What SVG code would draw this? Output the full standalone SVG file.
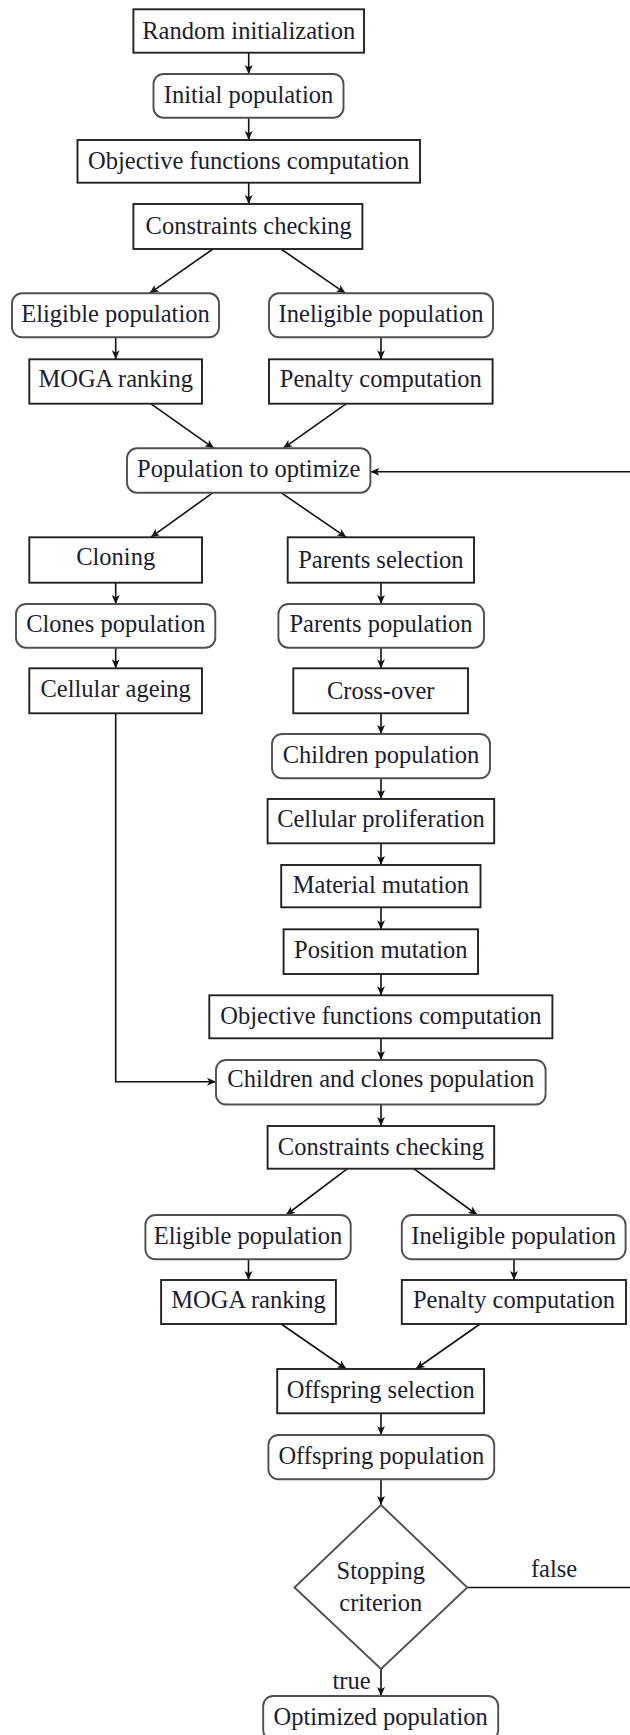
<svg xmlns="http://www.w3.org/2000/svg" width="630" height="1735" viewBox="0 0 630 1735">
  <style>
    .box { fill: #ffffff; stroke: #222222; stroke-width: 1.9; }
    .rbox { fill: #ffffff; stroke: #505050; stroke-width: 1.9; }
    .lbl { font-family: "Liberation Serif", "Times New Roman", serif; font-size: 24.5px; fill: #1c1c30; text-anchor: middle; }
    .edge { fill: none; stroke: #111111; stroke-width: 1.6; }
    .arr { marker-end: url(#head); }
  </style>
  <defs>
    <marker id="head" viewBox="0 0 10 10" refX="10" refY="5" markerWidth="9" markerHeight="9" markerUnits="userSpaceOnUse" orient="auto">
      <path d="M0,0.6 L10,5 L0,9.4 L2.6,5 Z" fill="#111111"/>
    </marker>
  </defs>

  <!-- connectors -->
  <g id="connectors">
    <line class="edge arr" x1="248.7" y1="52.7" x2="248.7" y2="74"/>
    <line class="edge arr" x1="248.7" y1="117.7" x2="248.7" y2="140"/>
    <line class="edge arr" x1="248.7" y1="182.7" x2="248.7" y2="204"/>
    <line class="edge arr" x1="213" y1="249" x2="149.5" y2="293.3"/>
    <line class="edge arr" x1="281" y1="249" x2="345.5" y2="293.3"/>
    <line class="edge arr" x1="115.7" y1="337.3" x2="115.7" y2="359.3"/>
    <line class="edge arr" x1="381" y1="337.3" x2="381" y2="359.3"/>
    <line class="edge arr" x1="150.7" y1="403.7" x2="214" y2="448.3"/>
    <line class="edge arr" x1="346.3" y1="403.7" x2="283.2" y2="448.3"/>
    <line class="edge arr" x1="631" y1="471.7" x2="370.4" y2="471.7"/>
    <line class="edge arr" x1="213" y1="492.7" x2="150.7" y2="537.3"/>
    <line class="edge arr" x1="281" y1="492.7" x2="346.3" y2="537.3"/>
    <line class="edge arr" x1="115.7" y1="582.7" x2="115.7" y2="604"/>
    <line class="edge arr" x1="381" y1="582.7" x2="381" y2="604"/>
    <line class="edge arr" x1="115.7" y1="647.7" x2="115.7" y2="668.3"/>
    <line class="edge arr" x1="381" y1="647.7" x2="381" y2="668.3"/>
    <polyline class="edge arr" points="115.7,713.3 115.7,1081.7 216,1081.7"/>
    <line class="edge arr" x1="381" y1="713.3" x2="381" y2="734"/>
    <line class="edge arr" x1="381" y1="778.3" x2="381" y2="799"/>
    <line class="edge arr" x1="381" y1="843.3" x2="381" y2="865"/>
    <line class="edge arr" x1="381" y1="907.3" x2="381" y2="929.3"/>
    <line class="edge arr" x1="381" y1="974" x2="381" y2="995.3"/>
    <line class="edge arr" x1="381" y1="1038.3" x2="381" y2="1060"/>
    <line class="edge arr" x1="381" y1="1104" x2="381" y2="1126"/>
    <line class="edge arr" x1="347.5" y1="1168.7" x2="286" y2="1215"/>
    <line class="edge arr" x1="413.8" y1="1168.7" x2="477.3" y2="1215"/>
    <line class="edge arr" x1="248.5" y1="1259.3" x2="248.5" y2="1280"/>
    <line class="edge arr" x1="514" y1="1259.3" x2="514" y2="1280"/>
    <line class="edge arr" x1="281.2" y1="1324" x2="346.3" y2="1369"/>
    <line class="edge arr" x1="480" y1="1324" x2="415.8" y2="1369"/>
    <line class="edge arr" x1="381" y1="1413.3" x2="381" y2="1435"/>
    <line class="edge arr" x1="381" y1="1479.3" x2="381" y2="1505"/>
    <line class="edge" x1="467.3" y1="1587.5" x2="631" y2="1587.5"/>
    <line class="edge arr" x1="381" y1="1669" x2="381" y2="1696"/>
    <text class="lbl" x="554" y="1577">false</text>
    <text class="lbl" x="351.5" y="1689">true</text>
  </g>

  <g id="random-init">
    <rect class="box" x="133.4" y="9.3" width="230.6" height="43.4"/>
    <text class="lbl" x="248.7" y="39.3">Random initialization</text>
  </g>
  <g id="initial-pop">
    <rect class="rbox" x="153.5" y="74" width="190" height="43.7" rx="10"/>
    <text class="lbl" x="248.5" y="103.3">Initial population</text>
  </g>
  <g id="objectives-1">
    <rect class="box" x="77.5" y="140" width="342.5" height="42.7"/>
    <text class="lbl" x="248.7" y="168.8">Objective functions computation</text>
  </g>
  <g id="constraints-1">
    <rect class="box" x="133.4" y="204" width="229" height="45"/>
    <text class="lbl" x="248.7" y="233.5">Constraints checking</text>
  </g>
  <g id="eligible-1">
    <rect class="rbox" x="12" y="293.3" width="207" height="44" rx="10"/>
    <text class="lbl" x="115.5" y="322.3">Eligible population</text>
  </g>
  <g id="ineligible-1">
    <rect class="rbox" x="269" y="293.3" width="224" height="44" rx="10"/>
    <text class="lbl" x="381" y="322.3">Ineligible population</text>
  </g>
  <g id="moga-1">
    <rect class="box" x="29.3" y="359.3" width="172.7" height="44.4"/>
    <text class="lbl" x="115.7" y="386.5">MOGA ranking</text>
  </g>
  <g id="penalty-1">
    <rect class="box" x="269" y="359.3" width="223.6" height="44.4"/>
    <text class="lbl" x="380.8" y="386.5">Penalty computation</text>
  </g>
  <g id="pop-to-optimize">
    <rect class="rbox" x="127" y="448.3" width="243.4" height="44.4" rx="10"/>
    <text class="lbl" x="248.7" y="476.8">Population to optimize</text>
  </g>
  <g id="cloning">
    <rect class="box" x="29.3" y="537.3" width="172.7" height="45.4"/>
    <text class="lbl" x="115.7" y="565.3">Cloning</text>
  </g>
  <g id="parents-selection">
    <rect class="box" x="287.7" y="537.3" width="186.3" height="45.4"/>
    <text class="lbl" x="380.8" y="568.3">Parents selection</text>
  </g>
  <g id="clones-pop">
    <rect class="rbox" x="16" y="604" width="199.3" height="43.7" rx="10"/>
    <text class="lbl" x="115.7" y="632">Clones population</text>
  </g>
  <g id="parents-pop">
    <rect class="rbox" x="278.4" y="604" width="205.6" height="43.7" rx="10"/>
    <text class="lbl" x="381" y="632">Parents population</text>
  </g>
  <g id="cellular-ageing">
    <rect class="box" x="29.3" y="668.3" width="172.7" height="45"/>
    <text class="lbl" x="115.7" y="696.5">Cellular ageing</text>
  </g>
  <g id="cross-over">
    <rect class="box" x="293.3" y="668.3" width="174.7" height="45"/>
    <text class="lbl" x="380.7" y="698.5">Cross-over</text>
  </g>
  <g id="children-pop">
    <rect class="rbox" x="272" y="734" width="218" height="44.3" rx="10"/>
    <text class="lbl" x="381" y="762.5">Children population</text>
  </g>
  <g id="cellular-proliferation">
    <rect class="box" x="267.6" y="799" width="226.6" height="44.3"/>
    <text class="lbl" x="380.9" y="827.3">Cellular proliferation</text>
  </g>
  <g id="material-mutation">
    <rect class="box" x="281.2" y="865" width="199.3" height="42.3"/>
    <text class="lbl" x="380.9" y="893">Material mutation</text>
  </g>
  <g id="position-mutation">
    <rect class="box" x="283.6" y="929.3" width="194.4" height="44.7"/>
    <text class="lbl" x="380.8" y="957.7">Position mutation</text>
  </g>
  <g id="objectives-2">
    <rect class="box" x="209.3" y="995.3" width="343.1" height="43"/>
    <text class="lbl" x="380.9" y="1023.5">Objective functions computation</text>
  </g>
  <g id="children-clones-pop">
    <rect class="rbox" x="216" y="1060" width="329.6" height="44.5" rx="10"/>
    <text class="lbl" x="380.8" y="1087">Children and clones population</text>
  </g>
  <g id="constraints-2">
    <rect class="box" x="267.6" y="1126" width="226.6" height="42.7"/>
    <text class="lbl" x="380.9" y="1154.5">Constraints checking</text>
  </g>
  <g id="eligible-2">
    <rect class="rbox" x="145.4" y="1215" width="205.3" height="44.3" rx="10"/>
    <text class="lbl" x="248" y="1243.5">Eligible population</text>
  </g>
  <g id="ineligible-2">
    <rect class="rbox" x="401.8" y="1215" width="223.8" height="44.3" rx="10"/>
    <text class="lbl" x="513.7" y="1243.5">Ineligible population</text>
  </g>
  <g id="moga-2">
    <rect class="box" x="161.1" y="1280" width="174.8" height="44"/>
    <text class="lbl" x="248.5" y="1307.5">MOGA ranking</text>
  </g>
  <g id="penalty-2">
    <rect class="box" x="401.8" y="1280" width="224.2" height="44"/>
    <text class="lbl" x="514" y="1307.5">Penalty computation</text>
  </g>
  <g id="offspring-selection">
    <rect class="box" x="277.2" y="1369" width="206.9" height="44.3"/>
    <text class="lbl" x="380.7" y="1397.5">Offspring selection</text>
  </g>
  <g id="offspring-pop">
    <rect class="rbox" x="268.4" y="1435" width="225.8" height="44.3" rx="10"/>
    <text class="lbl" x="381.3" y="1463.5">Offspring population</text>
  </g>
  <g id="stopping-criterion">
    <polygon class="rbox" points="381,1505 467.3,1587.5 381,1669 294.5,1587.5"/>
    <text class="lbl" x="380.8" y="1579">Stopping</text>
    <text class="lbl" x="380.8" y="1611">criterion</text>
  </g>
  <g id="optimized-pop">
    <rect class="rbox" x="263.2" y="1696" width="235" height="44" rx="10"/>
    <text class="lbl" x="380.7" y="1725">Optimized population</text>
  </g>
</svg>
